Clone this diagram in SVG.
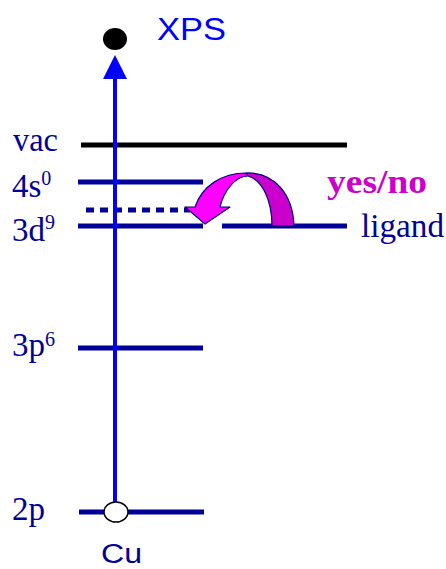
<svg xmlns="http://www.w3.org/2000/svg" width="446" height="569" viewBox="0 0 446 569">
<style>
.lvl{stroke:#000099;stroke-width:5;fill:none}
.lab{font-family:"Liberation Serif","Times New Roman",serif;font-size:33px;fill:#000099}
.sup{font-size:20px}
.sans{font-family:"Liberation Sans",Arial,sans-serif}
</style>
<defs>
<marker id="ah" markerWidth="24" markerHeight="24" refX="0" refY="12" orient="auto" markerUnits="userSpaceOnUse">
<path d="M0,0 L24,12 L0,24 Z" fill="#0000FF"/>
</marker>
</defs>
<rect width="446" height="569" fill="#ffffff"/>
<g id="levels">
<g id="vac"><line x1="81" y1="145" x2="347" y2="145" stroke="#000000" stroke-width="5"/><text class="lab" x="13" y="151" textLength="45" lengthAdjust="spacingAndGlyphs">vac</text></g>
<g id="s4"><line class="lvl" x1="78" y1="182" x2="203" y2="182"/><text class="lab" x="12" y="197">4s<tspan class="sup" dy="-12">0</tspan></text></g>
<g id="dotted"><line class="lvl" x1="86" y1="210" x2="190" y2="210" stroke-dasharray="8 6"/></g>
<g id="d3"><line class="lvl" x1="78" y1="226" x2="203" y2="226"/><text class="lab" x="12" y="241">3d<tspan class="sup" dy="-12">9</tspan></text></g>
<g id="ligand"><line class="lvl" x1="222" y1="226" x2="347" y2="226"/><text class="lab" x="361" y="237" textLength="83" lengthAdjust="spacingAndGlyphs">ligand</text></g>
<g id="p3"><line class="lvl" x1="78" y1="348" x2="203" y2="348"/><text class="lab" x="12" y="356">3p<tspan class="sup" dy="-10">6</tspan></text></g>
<g id="p2"><line class="lvl" x1="79" y1="512" x2="204" y2="512"/><text class="lab" x="12" y="520">2p</text></g>
</g>
<g id="connectors">
<line x1="115" y1="512" x2="115" y2="79" stroke="#0000FF" stroke-width="4" marker-end="url(#ah)"/>
<g id="transfer" stroke="#000080" stroke-width="1.2" stroke-linejoin="round">
<path d="M246,173 C275,172 293,195 294,226 L272,226 C272,200 262,180 248,176 Z" fill="#CC00CC"/>
<path d="M248,176 C236,176 224,190 220,207 L230,207 L205,224 L185,207 L195,207 C202,186 222,173 246,173 Z" fill="#FF00FF"/>
</g>
</g>
<g id="electron"><ellipse cx="115" cy="39" rx="12" ry="11" fill="#000000"/></g>
<g id="hole"><ellipse cx="116" cy="512" rx="12" ry="10" fill="#ffffff" stroke="#000000" stroke-width="1.5"/></g>
<text class="sans" x="157" y="40" font-size="32" fill="#0000FF" textLength="69" lengthAdjust="spacingAndGlyphs">XPS</text>
<text class="sans" x="101" y="563" font-size="27" fill="#000099" textLength="41" lengthAdjust="spacingAndGlyphs">Cu</text>
<text x="327" y="193" font-family="'Liberation Serif','Times New Roman',serif" font-weight="bold" font-size="34" fill="#CC00CC" textLength="100" lengthAdjust="spacingAndGlyphs">yes/no</text>
</svg>
